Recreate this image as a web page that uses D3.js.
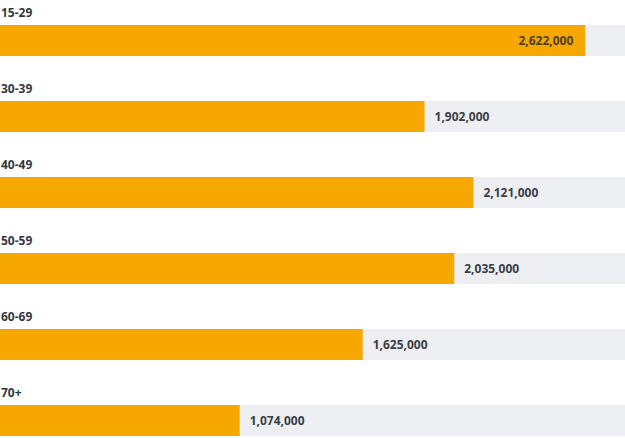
<!DOCTYPE html>
<html>
<head>
<meta charset="utf-8">
<script src="https://cdn.jsdelivr.net/npm/d3@7"></script>
<style>
  body { margin: 0; background: #fff; }
  svg text { font-family: "Open Sans", Lato, sans-serif; font-weight: 700; }
</style>
</head>
<body>
<div id="chart"></div>
<script>
var ageGroups = ["15-29", "30-39", "40-49", "50-59", "60-69", "70+"];
var population = [2622000, 1902000, 2121000, 2035000, 1625000, 1074000];
var maxValue = 2800000;

var width = 625, height = 438;
var rowTop = 25, rowStep = 76, barHeight = 31;

var svg = d3.select("#chart").append("svg")
    .attr("width", width)
    .attr("height", height);

var x = d3.scaleLinear()
    .domain([0, maxValue])
    .range([0, width]);

var gap = (rowStep - barHeight) / rowStep;
var y = d3.scaleBand()
    .domain(ageGroups)
    .range([rowTop, rowTop + rowStep * ageGroups.length])
    .paddingInner(gap)
    .paddingOuter(gap / 2)
    .align(0);

var fmt = d3.format(",");

var rows = svg.selectAll("g.row")
    .data(ageGroups)
    .enter().append("g")
    .attr("class", "row");

// grey track
rows.append("rect")
    .attr("x", 0)
    .attr("y", function(d){ return y(d); })
    .attr("width", width)
    .attr("height", y.bandwidth())
    .style("fill", "#eeeff2");

// orange bar
rows.append("rect")
    .attr("x", x(0))
    .attr("y", function(d){ return y(d); })
    .attr("width", function(d, i){ return x(population[i]) - x(0); })
    .attr("height", y.bandwidth())
    .style("fill", "#f6a800");

// category label above the bar
rows.append("text")
    .attr("x", 1)
    .attr("y", function(d){ return y(d) - 8; })
    .attr("font-size", "12px")
    .style("fill", "#33373d")
    .text(function(d){ return d; });

// value label
rows.append("text")
    .attr("y", function(d){ return y(d) + y.bandwidth() / 2; })
    .attr("dy", "0.35em")
    .attr("font-size", "12px")
    .style("fill", "#3a3e45")
    .text(function(d, i){ return fmt(population[i]); })
    .each(function(d, i){
        var t = d3.select(this);
        var end = x(population[i]);
        var w = this.getComputedTextLength();
        if (end + 10 + w > width - 5) {
            t.attr("x", end - 12).attr("text-anchor", "end").style("fill", "#4d4120");
        } else {
            t.attr("x", end + 10).attr("text-anchor", "start");
        }
    });
</script>
</body>
</html>
